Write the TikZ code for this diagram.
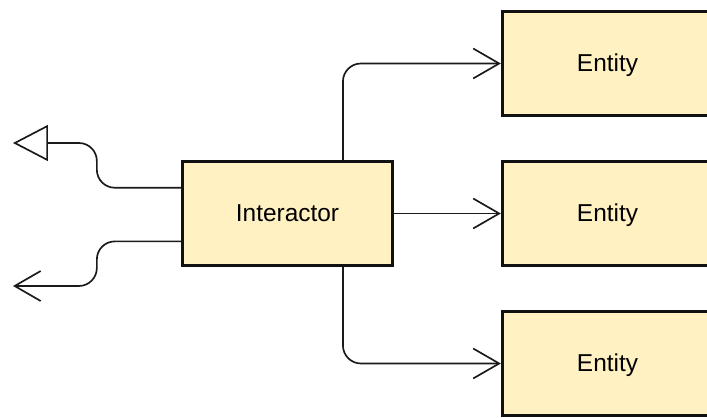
\documentclass[tikz,border=0pt]{standalone}
\usepackage{fontspec}
\setmainfont{Liberation Sans}
\usetikzlibrary{arrows.meta,calc}
\definecolor{boxfill}{HTML}{FFF1C2}
\definecolor{boxline}{HTML}{111111}
\definecolor{linecol}{HTML}{1A1A1A}
\begin{document}
\begin{tikzpicture}[x=0.02cm,y=-0.02cm,
  box/.style={draw=boxline, line width=1.9pt, fill=boxfill,
    minimum width=4.2cm, minimum height=2.08cm, inner sep=0pt,
    text height=0.88em, text depth=0pt,
    font=\fontsize{13.9pt}{16pt}\selectfont},
  link/.style={draw=linecol, line width=0.95pt, rounded corners=0.36cm},
  vtip/.style={-{Straight Barb[length=0.52cm,width=0.6cm]}},
  ttip/.style={-{Triangle[open,length=0.7cm,width=0.72cm]}}]
  % canvas
  \fill[white] (0,0) rectangle (707,418);
  \useasboundingbox (0,0) rectangle (707,418);

  % boxes
  \node[box] (I)  at (287.5,213.5) {Interactor};
  \node[box] (E1) at (607.5,63.5)  {Entity};
  \node[box] (E2) at (607.5,213.5) {Entity};
  \node[box] (E3) at (607.5,363.5) {Entity};

  % attachment points on the interactor
  \coordinate (tu) at ($(I.north west)!0.76!(I.north east)$);
  \coordinate (bd) at ($(I.south west)!0.76!(I.south east)$);
  \coordinate (lu) at ($(I.north west)!0.26!(I.south west)$);
  \coordinate (ld) at ($(I.north west)!0.76!(I.south west)$);

  % free ends on the left
  \coordinate (outU) at (13,143);
  \coordinate (outD) at (13,286);

  % interactor to entities
  \draw[link,vtip] (tu) |- (E1.west);
  \draw[link,vtip] (I.east) -- (E2.west);
  \draw[link,vtip] (bd) |- (E3.west);

  % outgoing links on the left
  \draw[link,ttip] (lu) -- ++(-84,0) |- (outU);
  \draw[link,vtip] (ld) -- ++(-84,0) |- (outD);
\end{tikzpicture}
\end{document}
